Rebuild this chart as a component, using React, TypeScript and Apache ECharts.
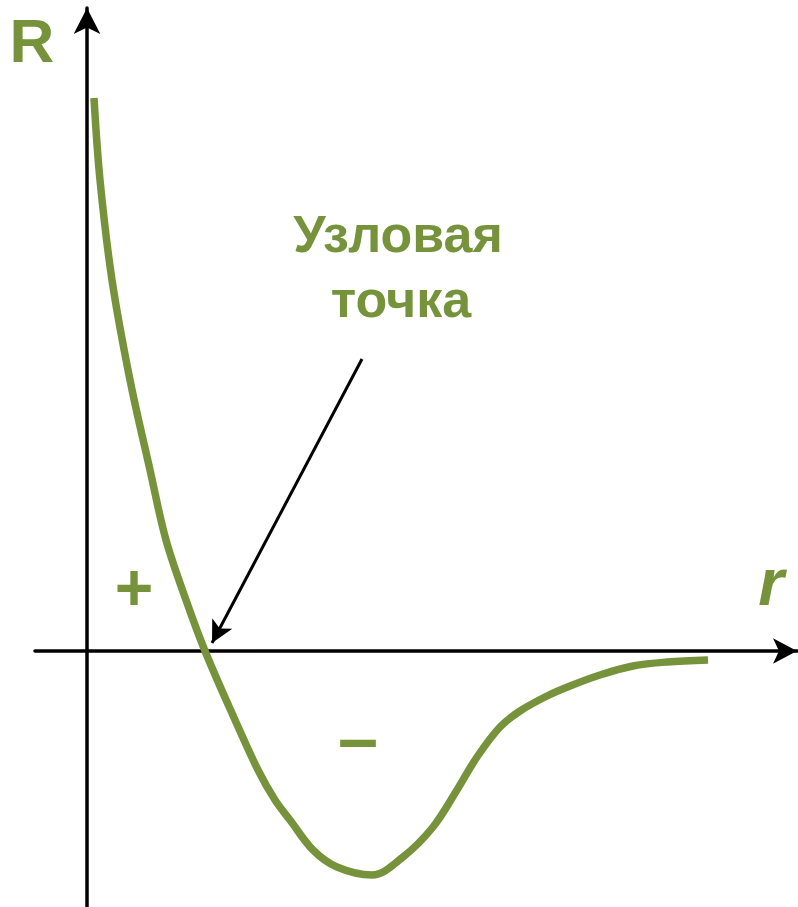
import React, { useEffect, useRef } from "react";
import * as echarts from "echarts";

// Radial wave function R(r) with one node
const rValues = [0.07, 0.13, 0.25, 0.43, 0.63, 0.79, 0.99, 1.18, 1.48, 1.71, 1.88, 2.03, 2.26, 2.5, 2.85, 3.16, 3.46, 3.7, 3.9, 4.13, 4.33, 4.6, 4.83, 5.13, 5.46, 5.8, 6.21];
const RValues = [5.53, 4.71, 3.71, 2.71, 1.81, 1.11, 0.51, 0.0, -0.69, -1.19, -1.49, -1.69, -1.99, -2.16, -2.24, -2.06, -1.76, -1.39, -1.06, -0.76, -0.6, -0.45, -0.35, -0.24, -0.15, -0.11, -0.09];

// Pointer from the caption to the node
const pointerFrom = [2.75, 2.92];
const pointerTo = [1.25, 0.08];

const captionLines = ["Узловая", "точка"];
const axisNames = { y: "R", x: "r" };
const signs = { plus: "+", minus: "–" };

const GREEN = "#76933C";
const FONT = "'Liberation Sans', Arial, sans-serif";

export default function App() {
  const ref = useRef<HTMLDivElement>(null);

  useEffect(() => {
    if (!ref.current) return;
    const chart = echarts.init(ref.current, undefined, { renderer: "svg" });
    const data = rValues.map((r, i) => [r, RValues[i]]);

    chart.setOption({
      animation: false,
      backgroundColor: "#fff",
      grid: { left: 35, right: 1, top: 8, bottom: 0, containLabel: false },
      xAxis: {
        type: "value",
        min: -0.52,
        max: 7.1,
        axisLine: {
          onZero: true,
          symbol: ["none", "arrow"],
          symbolSize: [19, 24],
          lineStyle: { color: "#000", width: 3.5 },
        },
        axisTick: { show: false },
        axisLabel: { show: false },
        splitLine: { show: false },
      },
      yAxis: {
        type: "value",
        min: -2.56,
        max: 6.43,
        axisLine: {
          onZero: true,
          symbol: ["none", "arrow"],
          symbolSize: [20, 26],
          lineStyle: { color: "#000", width: 3.5 },
        },
        axisTick: { show: false },
        axisLabel: { show: false },
        splitLine: { show: false },
      },
      series: [
        {
          type: "line",
          data,
          smooth: 0.35,
          showSymbol: false,
          silent: true,
          lineStyle: { color: GREEN, width: 7.5, cap: "butt" },
          markLine: {
            silent: true,
            symbol: ["none", "arrow"],
            symbolSize: [17, 22],
            label: { show: false },
            lineStyle: { color: "#000", width: 3, type: "solid" },
            data: [[{ coord: pointerFrom }, { coord: pointerTo }]],
          },
        },
      ],
      graphic: [
        {
          type: "text",
          x: 32,
          y: 40,
          style: {
            text: axisNames.y,
            fill: GREEN,
            font: `bold 62px ${FONT}`,
            align: "center",
            verticalAlign: "middle",
          },
        },
        {
          type: "text",
          x: 771,
          y: 582,
          style: {
            text: axisNames.x,
            fill: GREEN,
            font: `italic bold 66px ${FONT}`,
            align: "center",
            verticalAlign: "middle",
          },
        },
        {
          type: "text",
          x: 134,
          y: 587,
          style: {
            text: signs.plus,
            fill: GREEN,
            font: `bold 66px ${FONT}`,
            align: "center",
            verticalAlign: "middle",
          },
        },
        {
          type: "text",
          x: 358,
          y: 738,
          style: {
            text: signs.minus,
            fill: GREEN,
            font: `bold 72px ${FONT}`,
            align: "center",
            verticalAlign: "middle",
          },
        },
        {
          type: "text",
          x: 398,
          y: 234,
          style: {
            text: captionLines[0],
            fill: GREEN,
            font: `bold 52px ${FONT}`,
            align: "center",
            verticalAlign: "middle",
          },
        },
        {
          type: "text",
          x: 401,
          y: 299,
          style: {
            text: captionLines[1],
            fill: GREEN,
            font: `bold 52px ${FONT}`,
            align: "center",
            verticalAlign: "middle",
          },
        },
      ],
    });

    return () => chart.dispose();
  }, []);

  return (
    <div
      ref={ref}
      style={{ position: "absolute", left: 0, top: 0, width: 798, height: 907 }}
    />
  );
}
